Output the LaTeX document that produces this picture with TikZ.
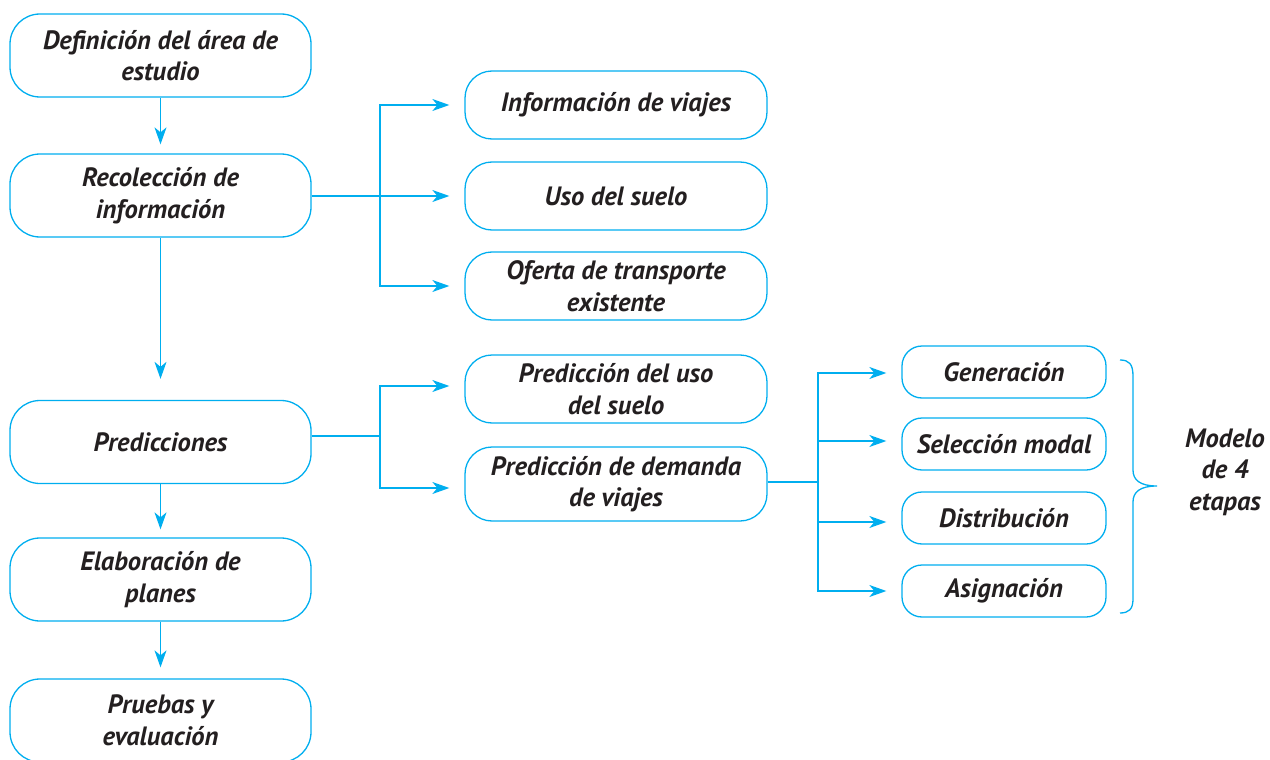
\documentclass[tikz,border=0pt]{standalone}
\usepackage{fontspec}
\setmainfont{PT Sans}
\usetikzlibrary{arrows.meta}
\definecolor{cy}{RGB}{0,174,239}
\definecolor{tx}{RGB}{35,31,32}
\begin{document}
\begin{tikzpicture}[x=1pt,y=-1pt,
  lbl/.style={font=\fontsize{26.5}{31.5}\selectfont\bfseries\itshape,text=tx,align=center},
  bigbox/.style={lbl,draw=cy,line width=1.3pt,rounded corners=30pt,minimum width=301pt,minimum height=83pt,inner sep=0pt},
  midbox/.style={lbl,draw=cy,line width=1.3pt,rounded corners=27pt,minimum width=302pt,minimum height=68pt,inner sep=0pt},
  smallbox/.style={lbl,draw=cy,line width=1.3pt,rounded corners=20pt,minimum width=204pt,minimum height=52pt,inner sep=0pt},
  conn/.style={draw=cy,line width=1.3pt},
  arr/.style={conn,-{Stealth[length=17pt,width=12pt,inset=5pt]}}]
\useasboundingbox (0,0) rectangle (1270,760);
% left column
\node[bigbox] (b1) at (160.5,55.5) {Definición del área de\\estudio};
\node[bigbox] (b2) at (160.5,195.5) {Recolección de\\información};
\node[bigbox] (b3) at (160.5,442) {Predicciones};
\node[bigbox] (b4) at (160.5,579.5) {Elaboración de\\planes};
\node[bigbox] (b5) at (160.5,720.5) {Pruebas y\\evaluación};
% middle column
\node[midbox] (m1) at (616,105) {Información de viajes};
\node[midbox] (m2) at (616,196) {Uso del suelo};
\node[midbox] (m3) at (616,286) {Oferta de transporte\\existente};
\node[midbox] (m4) at (616,389) {Predicción del uso\\del suelo};
\node[midbox,minimum height=74pt] (m5) at (616,484) {Predicción de demanda\\de viajes};
% right column
\node[smallbox] (r1) at (1004,372) {Generación};
\node[smallbox] (r2) at (1004,444) {Selección modal};
\node[smallbox] (r3) at (1004,518) {Distribución};
\node[smallbox] (r4) at (1004,591) {Asignación};
\node[lbl] (mod) at (1225,472) {Modelo\\de 4\\etapas};
% vertical arrows
\draw[arr,shorten >=9pt] (b1) -- (b2);
\draw[arr,shorten >=21pt] (b2) -- (b3);
\draw[arr,shorten >=8pt] (b3) -- (b4);
\draw[arr,shorten >=11pt] (b4) -- (b5);
% branch 1
\coordinate (j1) at (380,196);
\draw[conn] (b2.east |- j1) -- (j1);
\draw[arr,shorten >=15pt] (j1) |- (m1.west);
\draw[arr,shorten >=15pt] (j1) -- (m2.west);
\draw[arr,shorten >=15pt] (j1) |- (m3.west);
% branch 2
\coordinate (j2) at (380,436);
\draw[conn] (b3.east |- j2) -- (j2);
\draw[arr,shorten >=15pt] (j2) |- ([yshift=3pt]m4.west);
\draw[arr,shorten >=15pt] (j2) |- ([yshift=-4pt]m5.west);
% branch 3
\coordinate (j3) at (818,482);
\draw[conn] (m5.east |- j3) -- (j3);
\draw[arr,shorten >=15pt] (j3) |- ([yshift=-1pt]r1.west);
\draw[arr,shorten >=15pt] (j3) |- ([yshift=3pt]r2.west);
\draw[arr,shorten >=15pt] (j3) |- ([yshift=-4pt]r3.west);
\draw[arr,shorten >=15pt] (j3) |- (r4.west);
% brace
\draw[conn] (1120,360) .. controls (1129,360) and (1133,364) .. (1133,376) -- (1133,470)
  .. controls (1133,480) and (1140,486) .. (1157,486)
  .. controls (1140,486) and (1133,492) .. (1133,502) -- (1133,599)
  .. controls (1133,609) and (1129,613) .. (1120,613);
\end{tikzpicture}
\end{document}
